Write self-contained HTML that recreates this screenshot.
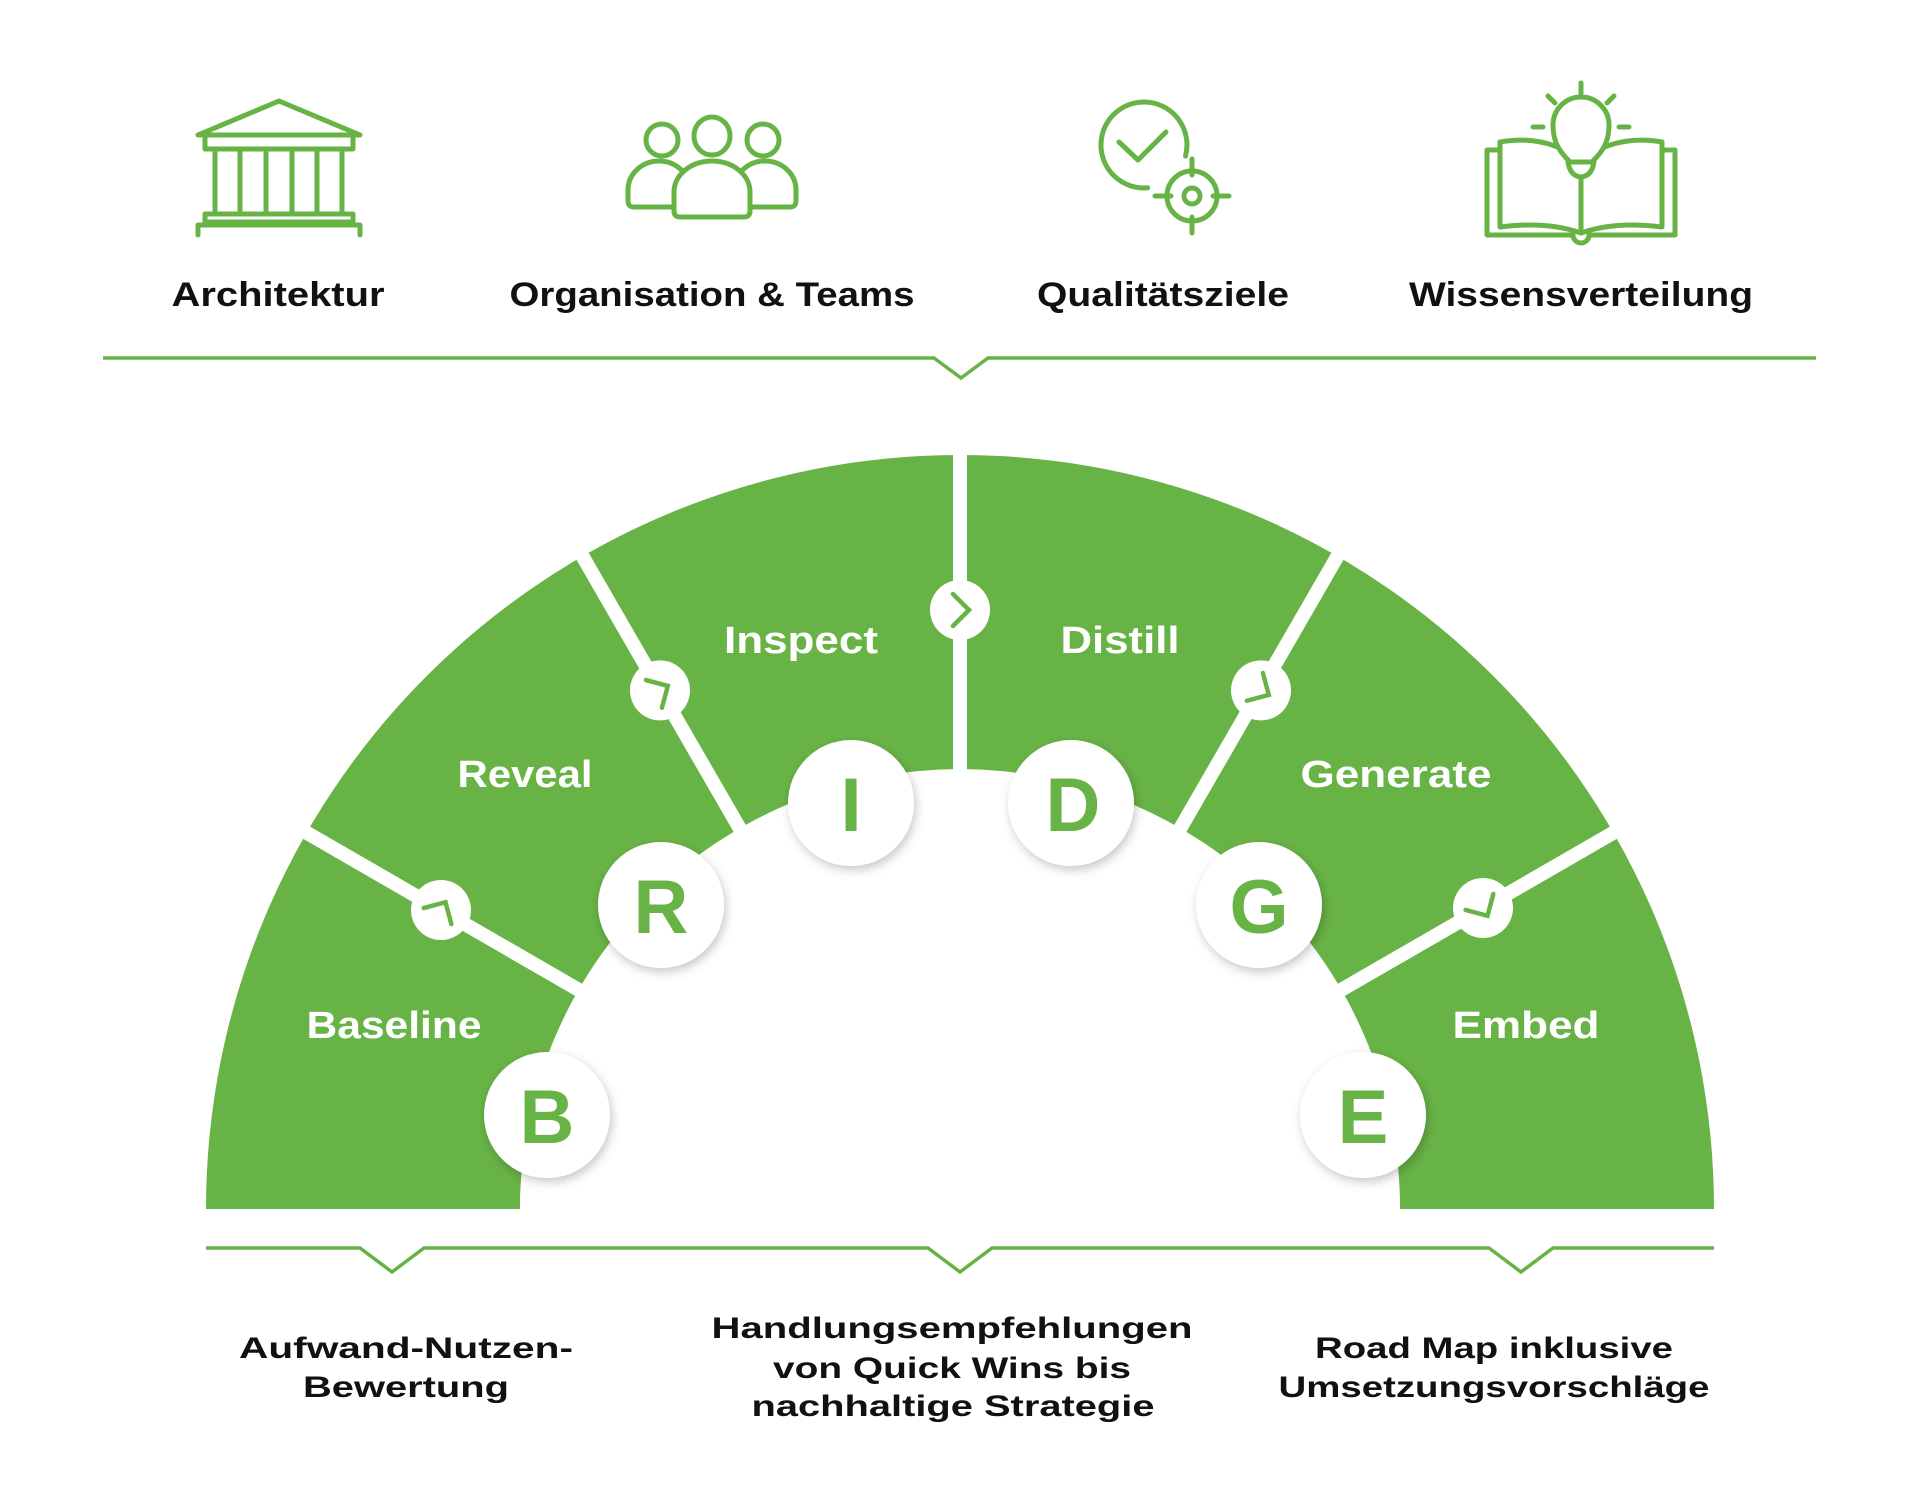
<!DOCTYPE html>
<html>
<head>
<meta charset="utf-8">
<style>
  html,body{margin:0;padding:0;background:#fff;width:1920px;height:1501px;overflow:hidden;}
  svg{display:block;}
  .lbl{font-family:"Liberation Sans",Arial,sans-serif;font-weight:bold;fill:#111;}
  .seg{font-family:"Liberation Sans",Arial,sans-serif;font-weight:bold;fill:#fff;}
  .let{font-family:"Liberation Sans",Arial,sans-serif;font-weight:bold;fill:#68b346;}
  .ic{fill:none;stroke:#68b346;stroke-width:5;stroke-linejoin:round;stroke-linecap:round;}
</style>
</head>
<body>
<svg width="1920" height="1501" viewBox="0 0 1920 1501" xmlns="http://www.w3.org/2000/svg">
  <defs>
    <filter id="sh" x="-30%" y="-30%" width="160%" height="160%">
      <feDropShadow dx="2" dy="4" stdDeviation="5" flood-color="#000" flood-opacity="0.22"/>
    </filter>
  </defs>
  <rect width="1920" height="1501" fill="#fff"/>

  <!-- ICON: building -->
  <g class="ic">
    <path d="M198 135 L279 101 L360 135 Z"/>
    <rect x="205" y="135" width="148" height="14"/>
    <path d="M215 149 V214 M240 149 V214 M266 149 V214 M292 149 V214 M317 149 V214 M342 149 V214"/>
    <rect x="205" y="214" width="148" height="8"/>
    <path d="M198 235 V225 H360 V235"/>
  </g>

  <!-- ICON: people -->
  <g class="ic">
    <circle cx="662" cy="140" r="16"/>
    <circle cx="763" cy="140" r="16"/>
    <ellipse cx="712" cy="136" rx="18" ry="19"/>
    <path d="M628 201 L628 190 A31 29 0 0 1 690 190 L690 207 L634 207 Q628 207 628 201 Z" fill="#fff"/>
    <path d="M796 201 L796 190 A31 29 0 0 0 734 190 L734 207 L790 207 Q796 207 796 201 Z" fill="#fff"/>
    <path d="M674 211 L674 192 A38 31 0 0 1 750 192 L750 211 Q750 217 744 217 L680 217 Q674 217 674 211 Z" fill="#fff"/>
  </g>

  <!-- ICON: check + target -->
  <g class="ic">
    <path d="M1147.7 187.8 A43 43 0 1 1 1185.5 156.1"/>
    <path d="M1119 142 L1138 160 L1166 132"/>
    <circle cx="1192" cy="196" r="25"/>
    <circle cx="1192" cy="196" r="8"/>
    <path d="M1192 159 V175 M1192 217 V233 M1155 196 H1171 M1213 196 H1229"/>
  </g>

  <!-- ICON: book + bulb -->
  <g class="ic">
    <path d="M1500 150 H1487 V235 H1573 A8 8 0 0 0 1589 235 H1675 V150 H1662"/>
    <path d="M1500 227 V142 Q1545 134 1581 160 Q1617 134 1662 142 V227 Q1615 221 1581 233 Q1547 221 1500 227 Z" fill="#fff"/>
    <path d="M1581 175 V233"/>
    <path d="M1570 162 C1560 152 1553 143 1553 125 A28 28 0 1 1 1609 125 C1609 143 1602 152 1592 162 Z" fill="#fff"/>
    <path d="M1568 162 Q1570 176 1581 177 Q1592 176 1594 162 Z" fill="#fff"/>
    <path d="M1581 83 V93 M1548 96 L1555 103 M1614 96 L1607 103 M1533 127 H1543 M1619 127 H1629"/>
  </g>

  <!-- top labels -->
  <text class="lbl" x="278" y="306" font-size="34" text-anchor="middle" textLength="213" lengthAdjust="spacingAndGlyphs">Architektur</text>
  <text class="lbl" x="712" y="306" font-size="34" text-anchor="middle" textLength="405" lengthAdjust="spacingAndGlyphs">Organisation &amp; Teams</text>
  <text class="lbl" x="1163" y="306" font-size="34" text-anchor="middle" textLength="252" lengthAdjust="spacingAndGlyphs">Qualitätsziele</text>
  <text class="lbl" x="1581" y="306" font-size="34" text-anchor="middle" textLength="344" lengthAdjust="spacingAndGlyphs">Wissensverteilung</text>

  <!-- top divider -->
  <path d="M103 358 H934 L961 378 L988 358 H1816" fill="none" stroke="#68b346" stroke-width="3.5" stroke-linejoin="miter"/>

  <!-- half annulus -->
  <path d="M206 1209 A754 754 0 0 1 1714 1209 L1400 1209 A440 440 0 0 0 520 1209 Z" fill="#68b346"/>

  <!-- gaps -->
  <g stroke="#fff" stroke-width="14">
    <line x1="960" y1="1210" x2="960" y2="440"/>
    <line x1="960" y1="1210" x2="260.3" y2="806"/>
    <line x1="960" y1="1210" x2="556" y2="510.3"/>
    <line x1="960" y1="1210" x2="1364" y2="510.3"/>
    <line x1="960" y1="1210" x2="1659.7" y2="806"/>
  </g>
  <circle cx="960" cy="1210" r="440" fill="#fff"/>

  <!-- small chevron circles -->
  <g>
    <circle cx="441" cy="910" r="30" fill="#fff"/>
    <circle cx="660" cy="690.4" r="30" fill="#fff"/>
    <circle cx="960" cy="610" r="30" fill="#fff"/>
    <circle cx="1261" cy="690.4" r="30" fill="#fff"/>
    <circle cx="1483" cy="908" r="30" fill="#fff"/>
  </g>
  <g fill="none" stroke="#68b346" stroke-width="4.5" stroke-linecap="round" stroke-linejoin="miter">
    <path d="M-7 -16 L9 0 L-7 16" transform="translate(441 910) rotate(-60)"/>
    <path d="M-7 -16 L9 0 L-7 16" transform="translate(660 690.4) rotate(-30)"/>
    <path d="M-7 -16 L9 0 L-7 16" transform="translate(960 610)"/>
    <path d="M-7 -16 L9 0 L-7 16" transform="translate(1261 690.4) rotate(30)"/>
    <path d="M-7 -16 L9 0 L-7 16" transform="translate(1483 908) rotate(60)"/>
  </g>

  <!-- segment labels -->
  <text class="seg" x="394" y="1038" font-size="38" text-anchor="middle" textLength="175" lengthAdjust="spacingAndGlyphs">Baseline</text>
  <text class="seg" x="525" y="787" font-size="38" text-anchor="middle" textLength="135" lengthAdjust="spacingAndGlyphs">Reveal</text>
  <text class="seg" x="801" y="653" font-size="38" text-anchor="middle" textLength="154" lengthAdjust="spacingAndGlyphs">Inspect</text>
  <text class="seg" x="1120" y="653" font-size="38" text-anchor="middle" textLength="119" lengthAdjust="spacingAndGlyphs">Distill</text>
  <text class="seg" x="1396" y="787" font-size="38" text-anchor="middle" textLength="191" lengthAdjust="spacingAndGlyphs">Generate</text>
  <text class="seg" x="1526" y="1038" font-size="38" text-anchor="middle" textLength="147" lengthAdjust="spacingAndGlyphs">Embed</text>

  <!-- letter circles -->
  <g filter="url(#sh)" fill="#fff">
    <circle cx="547" cy="1115" r="63"/>
    <circle cx="661" cy="905" r="63"/>
    <circle cx="851" cy="803" r="63"/>
    <circle cx="1071" cy="803" r="63"/>
    <circle cx="1259" cy="905" r="63"/>
    <circle cx="1363" cy="1115" r="63"/>
  </g>
  <text class="let" x="547" y="1143" font-size="76" text-anchor="middle">B</text>
  <text class="let" x="661" y="933" font-size="76" text-anchor="middle">R</text>
  <text class="let" x="851" y="831" font-size="76" text-anchor="middle">I</text>
  <text class="let" x="1073" y="831" font-size="76" text-anchor="middle">D</text>
  <text class="let" x="1259" y="933" font-size="76" text-anchor="middle">G</text>
  <text class="let" x="1363" y="1143" font-size="76" text-anchor="middle">E</text>

  <!-- bottom divider -->
  <path d="M206 1248 H360 L392 1272 L424 1248 H928 L960 1272 L992 1248 H1489 L1521 1272 L1553 1248 H1714" fill="none" stroke="#68b346" stroke-width="3.5" stroke-linejoin="miter"/>

  <!-- bottom labels -->
  <text class="lbl" x="406" y="1358" font-size="30" text-anchor="middle" textLength="334" lengthAdjust="spacingAndGlyphs">Aufwand-Nutzen-</text>
  <text class="lbl" x="406" y="1397" font-size="30" text-anchor="middle" textLength="206" lengthAdjust="spacingAndGlyphs">Bewertung</text>

  <text class="lbl" x="952" y="1338" font-size="30" text-anchor="middle" textLength="481" lengthAdjust="spacingAndGlyphs">Handlungsempfehlungen</text>
  <text class="lbl" x="952" y="1378" font-size="30" text-anchor="middle" textLength="358" lengthAdjust="spacingAndGlyphs">von Quick Wins bis</text>
  <text class="lbl" x="953" y="1416" font-size="30" text-anchor="middle" textLength="403" lengthAdjust="spacingAndGlyphs">nachhaltige Strategie</text>

  <text class="lbl" x="1494" y="1358" font-size="30" text-anchor="middle" textLength="358" lengthAdjust="spacingAndGlyphs">Road Map inklusive</text>
  <text class="lbl" x="1494" y="1397" font-size="30" text-anchor="middle" textLength="431" lengthAdjust="spacingAndGlyphs">Umsetzungsvorschläge</text>
</svg>
</body>
</html>
